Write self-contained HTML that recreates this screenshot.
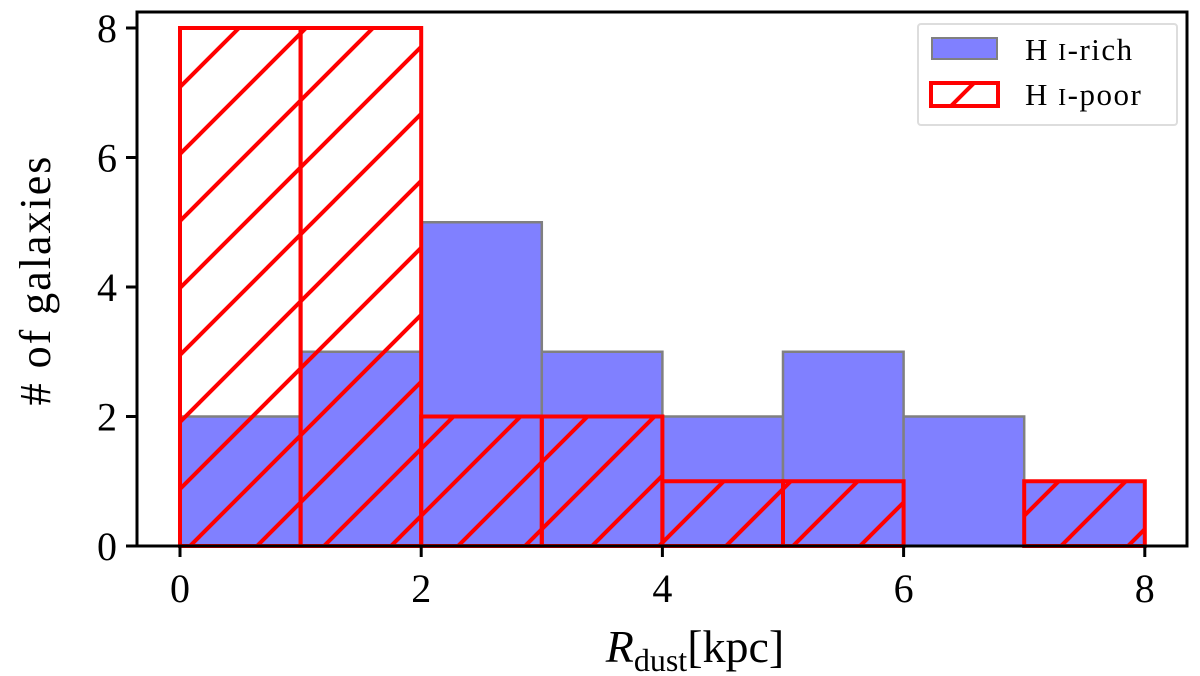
<!DOCTYPE html>
<html><head><meta charset="utf-8"><style>
html,body{margin:0;padding:0;background:#fff;width:1200px;height:676px;overflow:hidden}
text{font-family:"Liberation Serif",serif;fill:#000}
</style></head><body>
<svg id="chart" width="1200" height="676" viewBox="0 0 1200 676" xmlns="http://www.w3.org/2000/svg">
<defs>
<pattern id="hatch" patternUnits="userSpaceOnUse" width="67" height="67" patternTransform="translate(-1,0)">
<line x1="-10" y1="77" x2="77" y2="-10" stroke="#f00" stroke-width="4"/>
<line x1="-77" y1="77" x2="10" y2="-10" stroke="#f00" stroke-width="4"/>
<line x1="57" y1="77" x2="144" y2="-10" stroke="#f00" stroke-width="4"/>
</pattern>
<pattern id="hatchLeg" patternUnits="userSpaceOnUse" width="67" height="67" patternTransform="translate(-15,0)">
<line x1="-10" y1="77" x2="77" y2="-10" stroke="#f00" stroke-width="4"/>
<line x1="57" y1="77" x2="144" y2="-10" stroke="#f00" stroke-width="4"/>
</pattern>
</defs>
<g id="bars-rich"></g>
<g id="bars-poor"></g>
<rect x="137" y="12" width="1050" height="534" fill="none" stroke="#000" stroke-width="3"/>
<g id="xticks"></g>
<g id="yticks"></g>
<text transform="translate(50,280) rotate(-90)" text-anchor="middle" font-size="44" letter-spacing="2">#  of galaxies</text>
<text x="695" y="662" text-anchor="middle" font-size="46"><tspan font-style="italic">R</tspan><tspan font-size="32" dy="9">dust</tspan><tspan dy="-9">[kpc]</tspan></text>
<g>
<rect x="918" y="24" width="259" height="101" fill="#fff" fill-opacity="0.8" stroke="#ddd" stroke-width="2" rx="3"/>
<rect x="932" y="38" width="65" height="21" fill="#8080ff" stroke="#808080" stroke-width="2"/>
<text x="1025" y="60" font-size="31" letter-spacing="1.5">H <tspan font-size="24">I</tspan>-rich</text>
<rect x="931" y="83" width="67" height="23" fill="url(#hatchLeg)" stroke="#f00" stroke-width="4"/>
<text x="1025" y="105" font-size="31" letter-spacing="1.5">H <tspan font-size="24">I</tspan>-poor</text>
</g>
</svg>
<script>
const binEdges=[0,1,2,3,4,5,6,7,8];
const richCounts=[2,3,5,3,2,3,2,1];
const poorCounts=[8,8,2,2,1,1,0,1];
const xTicks=[0,2,4,6,8];
const yTicks=[0,2,4,6,8];
const X=v=>180+v*120.6, Y=v=>546-v*64.75;
const NS="http://www.w3.org/2000/svg";
function mk(t,a,p){const e=document.createElementNS(NS,t);for(const k in a)e.setAttribute(k,a[k]);p.appendChild(e);return e;}
const gr=document.getElementById('bars-rich'),gp=document.getElementById('bars-poor');
richCounts.forEach((c,i)=>{if(!c)return;const x0=X(binEdges[i]),x1=X(binEdges[i+1]);
const r=mk('rect',{x:x0,y:Y(c),width:x1-x0,height:Y(0)-Y(c),fill:'#8080ff',stroke:'#808080','stroke-width':2.5},gr);

});
poorCounts.forEach((c,i)=>{if(!c)return;const x0=X(binEdges[i]),x1=X(binEdges[i+1]);
const r=mk('rect',{x:x0,y:Y(c),width:x1-x0,height:Y(0)-Y(c),fill:'url(#hatch)',stroke:'#f00','stroke-width':4},gp);

});
const gx=document.getElementById('xticks');
xTicks.forEach(v=>{mk('line',{x1:X(v),x2:X(v),y1:546,y2:557,stroke:'#000','stroke-width':3},gx);
const t=mk('text',{x:X(v),y:602,'text-anchor':'middle','font-size':40},gx);t.textContent=v;

});
const gy=document.getElementById('yticks');
yTicks.forEach(v=>{mk('line',{x1:126,x2:137,y1:Y(v),y2:Y(v),stroke:'#000','stroke-width':3},gy);
const t=mk('text',{x:117,y:Y(v)+14,'text-anchor':'end','font-size':40},gy);t.textContent=v;

});
</script>
</body></html>
